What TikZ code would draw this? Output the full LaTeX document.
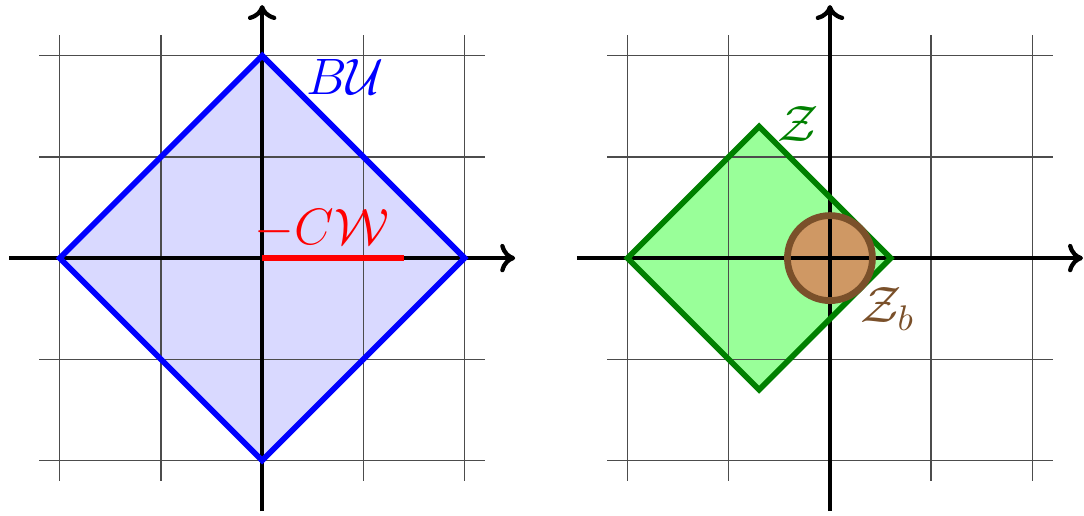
\documentclass[tikz,border=0pt]{standalone}
\usepackage{amsmath}
\usepackage{xcolor}
\usepackage{tikz}
\usetikzlibrary{arrows.meta, calc}
\definecolor{boxfill}{RGB}{217,217,255}
\definecolor{zonefill}{RGB}{153,255,153}
\definecolor{zoneedge}{RGB}{0,128,0}
\definecolor{ballfill}{RGB}{207,152,100}
\definecolor{balledge}{RGB}{122,80,42}
\tikzset{
  gridline/.style ={thin, color=black!70},
  axis/.style     ={-{To[length=4.2pt, width=8pt]}, line width=1.2pt, color=black},
  setedge/.style  ={line width=1.6pt, line join=miter},
  setlabel/.style ={font=\Large, inner sep=1pt},
}

\begin{document}
\begin{tikzpicture}[x=1cm, y=1cm]
\useasboundingbox (-2.59,-2.54) rectangle (8.12,2.55);

% left panel
\coordinate (lo) at (0,0);
\coordinate (lw) at (-2.5,0);
\coordinate (le) at (2.5,0);
\coordinate (ls) at (0,-2.5);
\coordinate (ln) at (0,2.5);
\coordinate (lcw) at (1.4,0);
\fill[boxfill] (-2,0) -- (0,2) -- (2,0) -- (0,-2) -- cycle;
\draw[gridline] (-2.2,-2.2) grid (2.2,2.2);
\draw[axis] (lw) -- (le);
\draw[axis] (ls) -- (ln);
\draw[setedge, blue] (-2,0) -- (0,2) -- (2,0) -- (0,-2) -- cycle;
\draw[setedge, red, line cap=butt] (lo) -- (lcw);
\node[setlabel, blue] (bu) at (0.82,1.79) {$B\mathcal{U}$};
\node[setlabel, red] (cw) at (0.59,0.29) {$-C\mathcal{W}$};

% right panel
\begin{scope}[shift={(5.61,0)}]
\coordinate (ro) at (0,0);
\coordinate (rw) at (-2.5,0);
\coordinate (re) at (2.5,0);
\coordinate (rs) at (0,-2.5);
\coordinate (rn) at (0,2.5);
\fill[zonefill] (-2,0) -- (-0.7,1.3) -- (0.6,0) -- (-0.7,-1.3) -- cycle;
\fill[ballfill] (ro) circle (0.42);
\draw[gridline] (-2.2,-2.2) grid (2.2,2.2);
\draw[axis] (rw) -- (re);
\draw[axis] (rs) -- (rn);
\draw[setedge, zoneedge] (-2,0) -- (-0.7,1.3) -- (0.6,0) -- (-0.7,-1.3) -- cycle;
\draw[setedge, balledge, line width=1.9pt] (ro) circle (0.42);
\node[setlabel, zoneedge] (z) at (-0.31,1.32) {$\mathcal{Z}$};
\node[setlabel, balledge] (zb) at (0.57,-0.5) {$\mathcal{Z}_b$};
\end{scope}
\end{tikzpicture}
\end{document}
